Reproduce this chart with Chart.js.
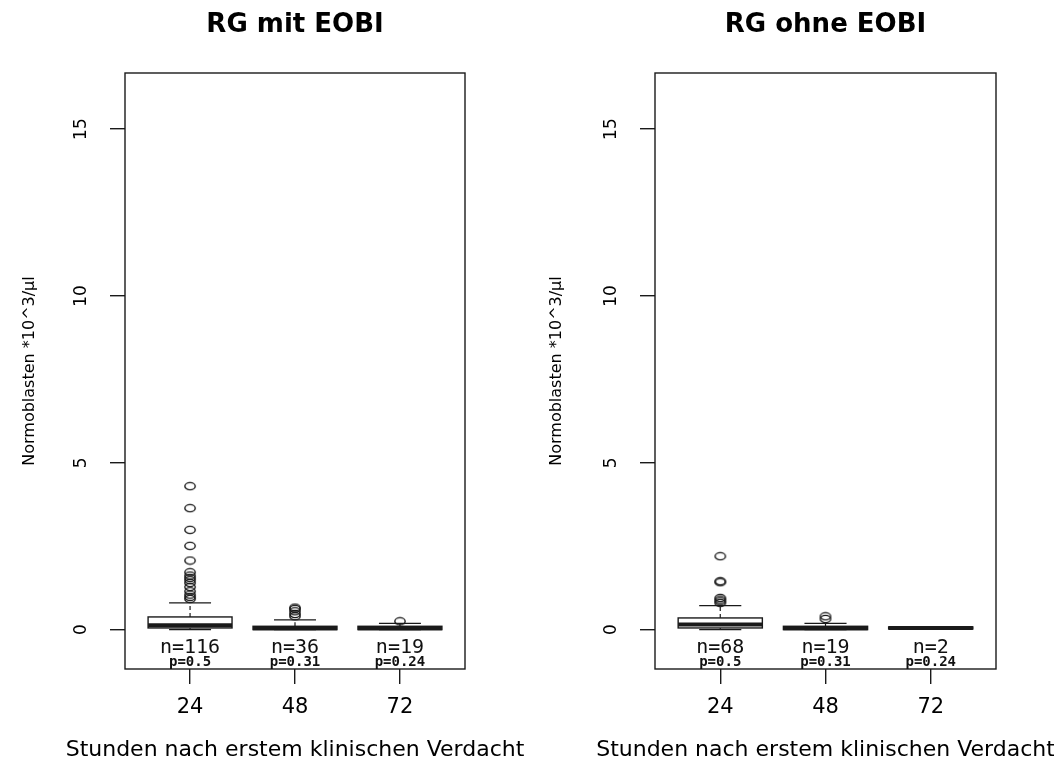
<!DOCTYPE html>
<html>
<head>
<meta charset="utf-8">
<script src="https://cdn.jsdelivr.net/npm/chart.js@4.4.1/dist/chart.umd.min.js"></script>
<style>
    html, body { margin: 0; padding: 0; background: #fff; }
    .panel { position: absolute; top: 0; height: 762px; width: 527px; }
    #leftPanel { left: 0; }
    #rightPanel { left: 527px; }
</style>
</head>
<body>
<div class="panel" id="leftPanel"><canvas id="mitChart"></canvas></div>
<div class="panel" id="rightPanel"><canvas id="ohneChart"></canvas></div>
<script>
const groups = ["24", "48", "72"];
const yTicks = [0, 5, 10, 15];
const pLabels = ["p=0.5", "p=0.31", "p=0.24"];
const xTitle = "Stunden nach erstem klinischen Verdacht";

// RG mit EOBI
const mitN = [116, 36, 19];
const mitLow = [0, 0, 0];
const mitQ1 = [0.05, 0, 0];
const mitMedian = [0.13, 0.04, 0.04];
const mitQ3 = [0.38, 0.1, 0.1];
const mitHigh = [0.8, 0.29, 0.19];
const mitOut24 = [4.3, 3.64, 2.99, 2.51, 2.07, 1.72, 1.62, 1.55, 1.48, 1.4, 1.28, 1.15, 1.05, 0.98, 0.92];
const mitOut48 = [0.66, 0.62, 0.55, 0.47, 0.4];
const mitOut72 = [0.25];

// RG ohne EOBI
const ohneN = [68, 19, 2];
const ohneLow = [0, 0, 0.02];
const ohneQ1 = [0.05, 0, 0.02];
const ohneMedian = [0.15, 0.04, 0.05];
const ohneQ3 = [0.35, 0.1, 0.08];
const ohneHigh = [0.72, 0.19, 0.08];
const ohneOut24 = [2.2, 1.45, 1.42, 0.95, 0.9, 0.85, 0.8];
const ohneOut48 = [0.4, 0.32];
const ohneOut72 = [];

const INK = "#1a1a1a";

function ellipseMarker() {
    const c = document.createElement("canvas");
    c.width = 14; c.height = 10;
    const g = c.getContext("2d");
    g.strokeStyle = INK;
    g.lineWidth = 1.4;
    g.beginPath();
    g.ellipse(7, 5, 5.2, 3.6, 0, 0, Math.PI * 2);
    g.stroke();
    return c;
}

const boxPlugin = {
    id: "boxes",
    beforeDatasetsDraw(chart, args, opts) {
        const { ctx, scales: { x, y } } = chart;
        ctx.save();
        ctx.strokeStyle = INK;
        for (let i = 0; i < groups.length; i++) {
            const c = i + 1;
            const xl = x.getPixelForValue(c - 0.4), xr = x.getPixelForValue(c + 0.4);
            const sl = x.getPixelForValue(c - 0.2), sr = x.getPixelForValue(c + 0.2);
            const xc = x.getPixelForValue(c);
            const q1 = y.getPixelForValue(opts.q1[i]), q3 = y.getPixelForValue(opts.q3[i]);
            const lo = y.getPixelForValue(opts.low[i]), hi = y.getPixelForValue(opts.high[i]);
            const med = y.getPixelForValue(opts.median[i]);
            // whiskers
            ctx.lineWidth = 1.2;
            ctx.setLineDash([4, 3]);
            ctx.beginPath();
            ctx.moveTo(xc, q3); ctx.lineTo(xc, hi);
            ctx.moveTo(xc, q1); ctx.lineTo(xc, lo);
            ctx.stroke();
            ctx.setLineDash([]);
            ctx.beginPath();
            ctx.moveTo(sl, hi); ctx.lineTo(sr, hi);
            ctx.moveTo(sl, lo); ctx.lineTo(sr, lo);
            ctx.stroke();
            // box
            ctx.fillStyle = "#fff";
            ctx.fillRect(xl, q3, xr - xl, q1 - q3);
            ctx.lineWidth = 1.4;
            ctx.strokeRect(xl, q3, xr - xl, q1 - q3);
            // median
            ctx.lineWidth = 4;
            ctx.beginPath();
            ctx.moveTo(xl, med); ctx.lineTo(xr, med);
            ctx.stroke();
        }
        ctx.restore();
    },
    afterDatasetsDraw(chart, args, opts) {
        const { ctx, chartArea: a, scales: { x, y } } = chart;
        ctx.save();
        ctx.strokeStyle = INK;
        ctx.lineWidth = 1.4;
        ctx.strokeRect(a.left, a.top, a.right - a.left, a.bottom - a.top);
        ctx.fillStyle = "#111";
        ctx.textAlign = "center";
        ctx.textBaseline = "middle";
        for (let i = 0; i < groups.length; i++) {
            const xc = x.getPixelForValue(i + 1);
            ctx.font = "20px 'DejaVu Sans Mono'";
            ctx.fillText("n=" + opts.n[i], xc, y.getPixelForValue(-0.55));
            ctx.font = "bold 14px 'DejaVu Sans Mono'";
            ctx.fillText(pLabels[i], xc, y.getPixelForValue(-0.97));
        }
        // x axis title, drawn here so it is not squeezed to the plot width
        ctx.fillStyle = "#000";
        ctx.font = "22px 'DejaVu Sans'";
        ctx.fillText(xTitle, (a.left + a.right) / 2, x.bottom - 12);
        ctx.restore();
    }
};

function makeChart(id, title, stats, outliers, yWidth, rightPad) {
    const marker = ellipseMarker();
    const points = [];
    outliers.forEach((vals, i) => vals.forEach(v => points.push({ x: i + 1, y: v })));
    const gridOpts = { drawOnChartArea: false, drawTicks: true, tickLength: 15, tickColor: INK, lineWidth: 1.4 };
    return new Chart(document.getElementById(id), {
        type: "scatter",
        data: { datasets: [{ data: points, pointStyle: marker, pointRadius: 6 }] },
        options: {
            responsive: true,
            maintainAspectRatio: false,
            animation: false,
            layout: { padding: { left: 0, right: rightPad, top: 0, bottom: 0 } },
            plugins: {
                legend: { display: false },
                tooltip: { enabled: false },
                title: {
                    display: true, text: title, fullSize: false, color: "#000",
                    font: { family: "'DejaVu Sans'", size: 26, weight: "bold", lineHeight: 1.2 },
                    padding: { top: 10, bottom: 31.8 }
                },
                boxes: stats
            },
            scales: {
                x: {
                    type: "linear", min: 0.38, max: 3.62,
                    afterBuildTicks: s => { s.ticks = groups.map((g, i) => ({ value: i + 1 })); },
                    afterFit: s => { s.height = 93; },
                    ticks: {
                        callback: v => groups[Math.round(v) - 1] ?? "",
                        font: { family: "'DejaVu Sans'", size: 21 }, color: "#000",
                        padding: 11, maxRotation: 0, autoSkip: false
                    },
                    grid: gridOpts,
                    border: { display: false }
                },
                y: {
                    type: "linear", min: -1.18, max: 16.68,
                    afterBuildTicks: s => { s.ticks = yTicks.map(v => ({ value: v })); },
                    afterFit: s => { s.width = yWidth; },
                    ticks: {
                        minRotation: 90, maxRotation: 90, crossAlign: "center",
                        font: { family: "'DejaVu Sans'", size: 17 }, color: "#000", padding: 18
                    },
                    grid: gridOpts,
                    border: { display: false },
                    title: {
                        display: true, text: "Normoblasten *10^3/µl", color: "#000",
                        font: { family: "'DejaVu Sans'", size: 16, lineHeight: 1.2 },
                        padding: { top: 20, bottom: 0 }
                    }
                }
            }
        },
        plugins: [boxPlugin]
    });
}

makeChart("mitChart", "RG mit EOBI",
    { n: mitN, low: mitLow, q1: mitQ1, median: mitMedian, q3: mitQ3, high: mitHigh },
    [mitOut24, mitOut48, mitOut72], 125, 62);
makeChart("ohneChart", "RG ohne EOBI",
    { n: ohneN, low: ohneLow, q1: ohneQ1, median: ohneMedian, q3: ohneQ3, high: ohneHigh },
    [ohneOut24, ohneOut48, ohneOut72], 128, 58);
</script>
</body>
</html>
